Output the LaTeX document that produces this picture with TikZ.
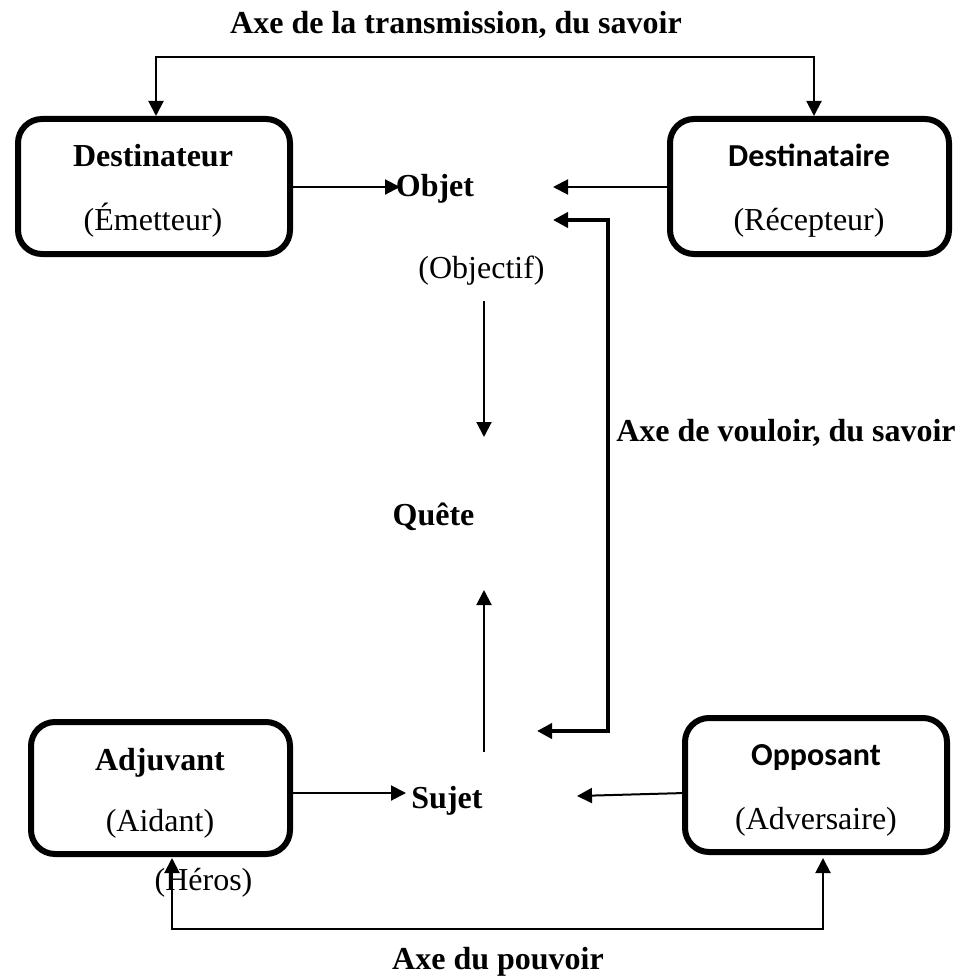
\documentclass[tikz,border=0pt]{standalone}
\usepackage{fontspec}
\setmainfont{Liberation Serif}
\newfontfamily\calfont{Carlito}
\usetikzlibrary{arrows.meta}
\begin{document}
\begin{tikzpicture}[x=1pt,y=-1pt,
  box/.style={draw, line width=6pt, rounded corners=24pt, inner sep=0pt},
  lbl/.style={anchor=base, inner sep=0pt, font=\fontsize{32}{38}\selectfont},
  ttl/.style={anchor=base, inner sep=0pt, font=\fontsize{32}{38}\selectfont\bfseries},
  ttlc/.style={anchor=base, inner sep=0pt, font=\fontsize{32}{38}\selectfont\calfont\bfseries},
  tip/.tip={Triangle[length=15pt,width=15pt]},
  arr/.style={line width=2pt, -tip},
  darr/.style={line width=2pt, tip-tip},
  tarr/.style={line width=4pt, tip-tip},
  ]
\useasboundingbox (0,0) rectangle (967,976);

% boxes
\node[box, minimum width=272pt, minimum height=135pt] (dtr) at (154,186.5) {};
\node[box, minimum width=279pt, minimum height=135pt] (dta) at (809.5,186.5) {};
\node[box, minimum width=259pt, minimum height=132pt] (adj) at (160.5,788) {};
\node[box, minimum width=262pt, minimum height=134pt] (opp) at (816,785) {};

% labels
\node[ttl] (t1) at (153,167) {Destinateur};
\node[lbl] (t1b) at (153,231) {(Émetteur)};
\node[ttlc] (t2) at (809,167) {Destinataire};
\node[lbl] (t2b) at (809,231) {(Récepteur)};
\node[ttl] (t3) at (160,770) {Adjuvant};
\node[lbl] (t3b) at (160,831) {(Aidant)};
\node[ttlc] (t4) at (816,765) {Opposant};
\node[lbl] (t4b) at (816,829) {(Adversaire)};
\node[lbl] (hero) at (203.5,890) {(Héros)};
\node[ttl] (objet) at (435,197) {Objet};
\node[lbl] (objf) at (481.5,278) {(Objectif)};
\node[ttl] (quete) at (433.5,525) {Quête};
\node[ttl] (sujet) at (447,808) {Sujet};
\node[ttl] (axe1) at (456,34) {Axe de la transmission, du savoir};
\node[ttl] (axe2) at (786,441) {Axe de vouloir, du savoir};
\node[ttl] (axe3) at (498,969) {Axe du pouvoir};

% connector end points
\coordinate (o1) at (400,187);
\coordinate (o2) at (553,187);
\coordinate (o3) at (553,220);
\coordinate (c1) at (608,220);
\coordinate (c2) at (608,731);
\coordinate (s3) at (537,731);
\coordinate (d1) at (484,301);
\coordinate (d2) at (484,437);
\coordinate (u1) at (484,752);
\coordinate (u2) at (484,590);
\coordinate (s1) at (406,793);
\coordinate (s2) at (577,796);
\coordinate (s2b) at (685,793);
\coordinate (tl) at (156,116);
\coordinate (tlc) at (156,57);
\coordinate (trc) at (814,57);
\coordinate (tr) at (814,116);
\coordinate (bl) at (172,858);
\coordinate (blc) at (172,929);
\coordinate (brc) at (823,929);
\coordinate (br) at (823,858);

% connectors
\draw[arr] (dtr.east |- o1) -- (o1);
\draw[arr] (dta.west |- o2) -- (o2);
\draw[tarr] (o3) -- (c1) -- (c2) -- (s3);
\draw[arr] (d1) -- (d2);
\draw[arr] (u1) -- (u2);
\draw[arr] (adj.east |- s1) -- (s1);
\draw[arr] (s2b) -- (s2);
\draw[darr] (tl) -- (tlc) -- (trc) -- (tr);
\draw[darr] (bl) -- (blc) -- (brc) -- (br);
\end{tikzpicture}
\end{document}
